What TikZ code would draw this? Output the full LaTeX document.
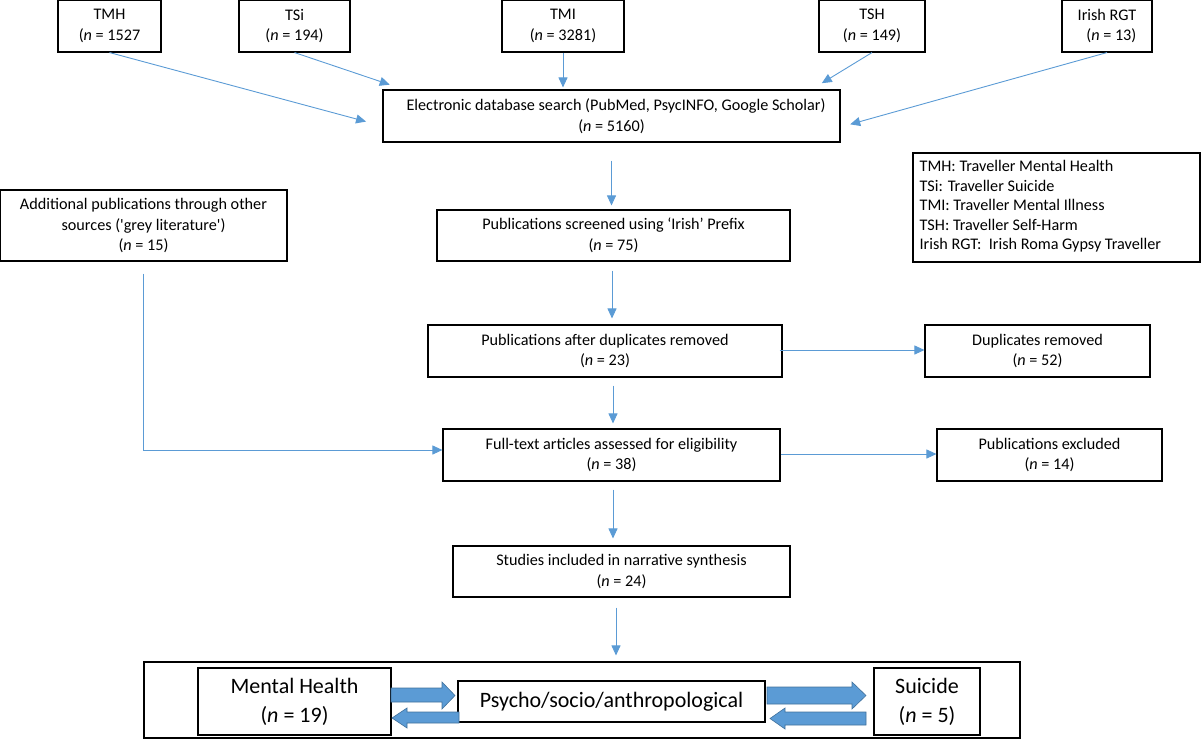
\documentclass[tikz,border=0pt]{standalone}
\usepackage{fontspec}
\setmainfont{Carlito}
\usetikzlibrary{arrows.meta,calc}
\definecolor{ablue}{HTML}{5B9BD5}
\definecolor{dblue}{HTML}{41719C}
\tikzset{
  box/.style={draw=black, line width=1.1pt, align=center, inner sep=0pt,
    font=\fontsize{16.2}{20.5}\selectfont},
  bigbox/.style={draw=black, line width=1.1pt, align=center, inner sep=0pt,
    font=\fontsize{22}{29}\selectfont},
  arr/.style={draw=ablue, line width=0.9pt, -{Triangle[length=10pt,width=9pt]}},
  blockarr/.style={fill=ablue, draw=dblue, line width=0.6pt},
}
\begin{document}
\begin{tikzpicture}[x=1pt,y=-1pt]
\useasboundingbox (0,0) rectangle (1201,739);
% top boxes
\node[box, minimum width=103pt, minimum height=52pt] (tmh) at (109.5,26) {TMH\\(\textit{n} = 1527};
\node[box, minimum width=111pt, minimum height=52pt] (tsi) at (294.5,26) {TSi\\(\textit{n} = 194)};
\node[box, minimum width=122pt, minimum height=52pt] (tmi) at (563,26) {TMI\\(\textit{n} = 3281)};
\node[box, minimum width=106pt, minimum height=52pt] (tsh) at (872,26) {TSH\\(\textit{n} = 149)};
\node[box, minimum width=90pt, minimum height=52pt, align=right] (rgt) at (1107,26) {Irish RGT\\(\textit{n} = 13)};
% main flow
\node[box, minimum width=457pt, minimum height=52pt] (elec) at (611.5,116) {\hspace*{9pt}Electronic database search (PubMed, PsycINFO, Google Scholar)\\(\textit{n} = 5160)};
\node[box, minimum width=287pt, minimum height=71pt] (add) at (143.5,225.5) {Additional publications through other\\sources (\textquotesingle grey literature\textquotesingle)\\(\textit{n} = 15)};
\node[box, minimum width=353pt, minimum height=51pt] (scr) at (613.5,235.5) {Publications screened using ‘Irish’ Prefix\\(\textit{n} = 75)};
\node[box, minimum width=354pt, minimum height=52pt] (dup) at (605,351) {Publications after duplicates removed\\(\textit{n} = 23)};
\node[box, minimum width=225pt, minimum height=52pt] (dupr) at (1037.5,351) {Duplicates removed\\(\textit{n} = 52)};
\node[box, minimum width=337pt, minimum height=52pt] (full) at (611.5,455) {Full-text articles assessed for eligibility\\(\textit{n} = 38)};
\node[box, minimum width=225pt, minimum height=52pt] (excl) at (1049.5,455) {Publications excluded\\(\textit{n} = 14)};
\node[box, minimum width=337pt, minimum height=51pt] (stud) at (621.5,571.5) {Studies included in narrative synthesis\\(\textit{n} = 24)};
% legend
\node[draw=black, line width=1.1pt, minimum width=287pt, minimum height=109pt, inner sep=0pt] (leg) at (1056.5,207.5) {};
\node[anchor=north west, inner sep=0pt, align=left, font=\fontsize{16.2}{19.5}\selectfont] (legtxt) at ($(leg.north west)+(7,8)$)
  {TMH: Traveller Mental Health\\TSi: Traveller Suicide\\TMI: Traveller Mental Illness\\TSH: Traveller Self-Harm\\Irish RGT:\ \ Irish Roma Gypsy Traveller};
% bottom
\node[draw=black, line width=1.1pt, minimum width=876pt, minimum height=76pt, inner sep=0pt] (outer) at (582,700) {};
\node[bigbox, minimum width=193pt, minimum height=67pt] (mh) at (294.5,701.5) {Mental Health\\(\textit{n} = 19)};
\node[bigbox, minimum width=307pt, minimum height=41pt] (psy) at (611.5,701.5) {Psycho/socio/anthropological};
\node[bigbox, minimum width=106pt, minimum height=67pt] (sui) at (927,701.5) {Suicide\\(\textit{n} = 5)};
% connectors top
\draw[arr, shorten >=17pt] (tmh.south) -- ([yshift=-10pt]elec.west);
\draw[arr, shorten >=15pt] (tsi.south) -- ([xshift=21.5pt]elec.north west);
\draw[arr, shorten >=2pt] (tmi.south) -- (tmi.south |- elec.north);
\draw[arr, shorten >=12pt] (tsh.south) -- ([xshift=-29pt]elec.north east);
\draw[arr, shorten >=10pt] (rgt.south) -- ([yshift=-11pt]elec.east);
% main flow connectors
\coordinate (c1) at ([xshift=-1.5pt]scr.south);
\coordinate (c2) at ([xshift=8pt]dup.south);
\coordinate (c3) at ([xshift=1.5pt]full.south);
\coordinate (c4) at ([xshift=-5.5pt]stud.south);
\coordinate (c5) at ([yshift=1pt]dup.east);
\coordinate (c6) at ([yshift=1pt]full.east);
\draw[arr, shorten <=18pt, shorten >=4pt] (elec.south) -- (elec.south |- scr.north);
\draw[arr, shorten <=9pt, shorten >=6pt] (c1) -- (c1 |- dup.north);
\draw[arr, shorten <=8pt, shorten >=5pt] (c2) -- (c2 |- full.north);
\draw[arr, shorten <=8pt, shorten >=7pt] (c3) -- (c3 |- stud.north);
\draw[arr, shorten <=10pt, shorten >=6pt] (c4) -- (c4 |- outer.north);
\draw[arr, shorten <=-3pt] (c5) -- (c5 -| dupr.west);
\draw[arr] (c6) -- (c6 -| excl.west);
\draw[arr, shorten <=12pt] (add.south) |- ([yshift=5pt]full.west);
% block arrows
\draw[blockarr] (391,688) -- (442,688) -- (442,682) -- (455,695.5) -- (442,709) -- (442,702) -- (391,702) -- cycle;
\draw[blockarr] (459,712) -- (407,712) -- (407,708) -- (392,718) -- (407,728) -- (407,723) -- (459,723) -- cycle;
\draw[blockarr] (767,687) -- (852,687) -- (852,682) -- (866,695.5) -- (852,709) -- (852,704) -- (767,704) -- cycle;
\draw[blockarr] (866,712) -- (785,712) -- (785,708) -- (770,718.5) -- (785,729) -- (785,725) -- (866,725) -- cycle;
\end{tikzpicture}
\end{document}
